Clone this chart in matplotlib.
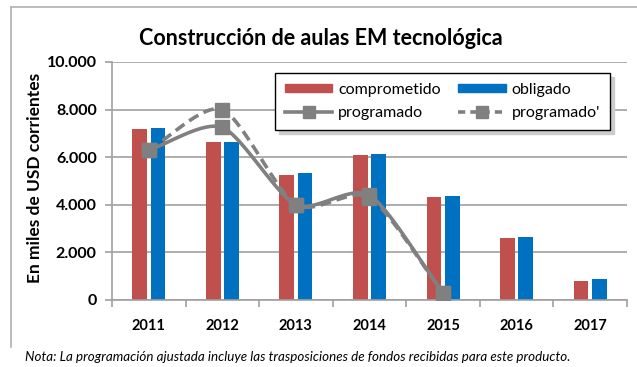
import numpy as np
import matplotlib
matplotlib.use("Agg")
import matplotlib.pyplot as plt
from matplotlib.patches import Patch
from matplotlib.lines import Line2D
from matplotlib.ticker import FuncFormatter, FixedLocator

plt.rcParams["font.family"] = ["Lato", "DejaVu Sans"]

# ------------------------------------------------------------------ #
#  Data (miles de USD corrientes)                                      #
# ------------------------------------------------------------------ #

years = ["2011", "2012", "2013", "2014", "2015", "2016", "2017"]
comprometido = [7200, 6630, 5270, 6080, 4310, 2620, 800]
obligado = [7220, 6650, 5320, 6130, 4370, 2630, 870]

# programación: only 2011-2015
prog_years = ["2011", "2012", "2013", "2014", "2015"]
programado = [6300, 7250, 4000, 4400, 300]
programado_aj = [6300, 8000, 4000, 4300, 300]

RED = "#C0504D"
BLUE = "#0070C0"
GRAY = "#808080"
GRID = "#A0A0A0"


def smooth(x, y, n=30, tension=0.38):
    """Cardinal spline through the points (spreadsheet-style 'smoothed line')."""
    x = np.asarray(x, float)
    y = np.asarray(y, float)
    px = np.concatenate([[2 * x[0] - x[1]], x, [2 * x[-1] - x[-2]]])
    py = np.concatenate([[2 * y[0] - y[1]], y, [2 * y[-1] - y[-2]]])
    t = np.linspace(0, 1, n)
    h00 = 2 * t ** 3 - 3 * t ** 2 + 1
    h10 = t ** 3 - 2 * t ** 2 + t
    h01 = -2 * t ** 3 + 3 * t ** 2
    h11 = t ** 3 - t ** 2
    xs, ys = [], []
    for i in range(1, len(px) - 2):
        for P, out in ((px, xs), (py, ys)):
            m1 = tension * (P[i + 1] - P[i - 1])
            m2 = tension * (P[i + 2] - P[i])
            out.append(h00 * P[i] + h10 * m1 + h01 * P[i + 1] + h11 * m2)
    return np.concatenate(xs), np.concatenate(ys)


fig = plt.figure(figsize=(6.37, 3.67), dpi=100)
ax = fig.add_axes([0.1758, 0.1826, 0.8085, 0.6485])

x = np.arange(len(years))
w = 0.2
ax.bar(x - 0.125, comprometido, width=w, color=RED, zorder=2)
ax.bar(x + 0.125, obligado, width=w, color=BLUE, zorder=2)

xp = np.array([years.index(y) for y in prog_years])
for vals, ls in ((programado_aj, (0, (3, 1.6))), (programado, "-")):
    sx, sy = smooth(xp, vals)
    ax.plot(sx, sy, color=GRAY, lw=2.6, ls=ls, zorder=3, solid_capstyle="butt")
    ax.plot(xp, vals, ls="none", marker="s", ms=10.5, color=GRAY, zorder=4)

ax.set_xlim(-0.5, len(years) - 0.5)
ax.set_ylim(0, 10000)
ax.set_yticks(np.arange(0, 10001, 2000))
ax.yaxis.set_major_formatter(FuncFormatter(lambda v, p: f"{v:,.0f}".replace(",", ".")))
ax.yaxis.grid(True, color=GRID, lw=1.2, zorder=0)
ax.set_axisbelow(True)

# category labels centred, tick marks between categories
ax.set_xticks(x)
ax.set_xticklabels(years, fontsize=10.5, fontweight="bold")
ax.xaxis.set_minor_locator(FixedLocator(np.arange(-0.5, len(years), 1.0)))
ax.tick_params(axis="x", which="major", length=0, pad=14)
ax.tick_params(axis="x", which="minor", length=5, color=GRID, width=1.2)
ax.tick_params(axis="y", length=5, color=GRID, width=1.2, labelsize=11.5, pad=6)
for lab in ax.get_yticklabels():
    lab.set_fontweight("bold")

for side in ("top", "right"):
    ax.spines[side].set_visible(False)
for side in ("left", "bottom"):
    ax.spines[side].set_color(GRID)
    ax.spines[side].set_linewidth(1.2)

fig.text(35 / 637, 1 - 178 / 367, "En miles de USD corrientes", rotation=90,
         ha="center", va="center", fontsize=12.5, fontweight="bold")

handles = [
    Patch(color=RED, label="comprometido"),
    Line2D([], [], color=GRAY, lw=2.6, marker="s", ms=8, label="programado"),
    Patch(color=BLUE, label="obligado"),
    Line2D([], [], color=GRAY, lw=2.6, ls=(0, (2, 1.4)), marker="s", ms=8, label="programado'"),
]
leg = ax.legend(handles=handles, ncol=2, loc="upper left",
                bbox_to_anchor=(0.3165, 0.954), borderaxespad=0,
                fontsize=11.5, frameon=True, fancybox=False, edgecolor="black",
                handlelength=3.0, handleheight=0.45, handletextpad=0.35,
                borderpad=0.6, labelspacing=0.6, columnspacing=1.1,
                shadow={"color": "0.8", "alpha": 1.0, "ox": 3, "oy": -3})
leg.get_frame().set_linewidth(1.0)
leg.set_zorder(5)

fig.text(0.503, 0.895, "Construcción de aulas EM tecnológica",
         ha="center", va="center", fontsize=15.5, fontweight="bold")

fig.text(0.039, 0.027,
         "Nota: La programación ajustada incluye las trasposiciones de fondos recibidas para este producto.",
         ha="left", va="center", fontsize=9.6, style="italic")

# chart frame: top and left edges
fig.add_artist(Line2D([11 / 637, 1.0], [1 - 7 / 367] * 2, color="#B0B0B0", lw=1.2))
fig.add_artist(Line2D([11 / 637] * 2, [1 - 7 / 367, 1 - 347 / 367], color="#B0B0B0", lw=1.2))

fig.savefig("out.png", dpi=100)
